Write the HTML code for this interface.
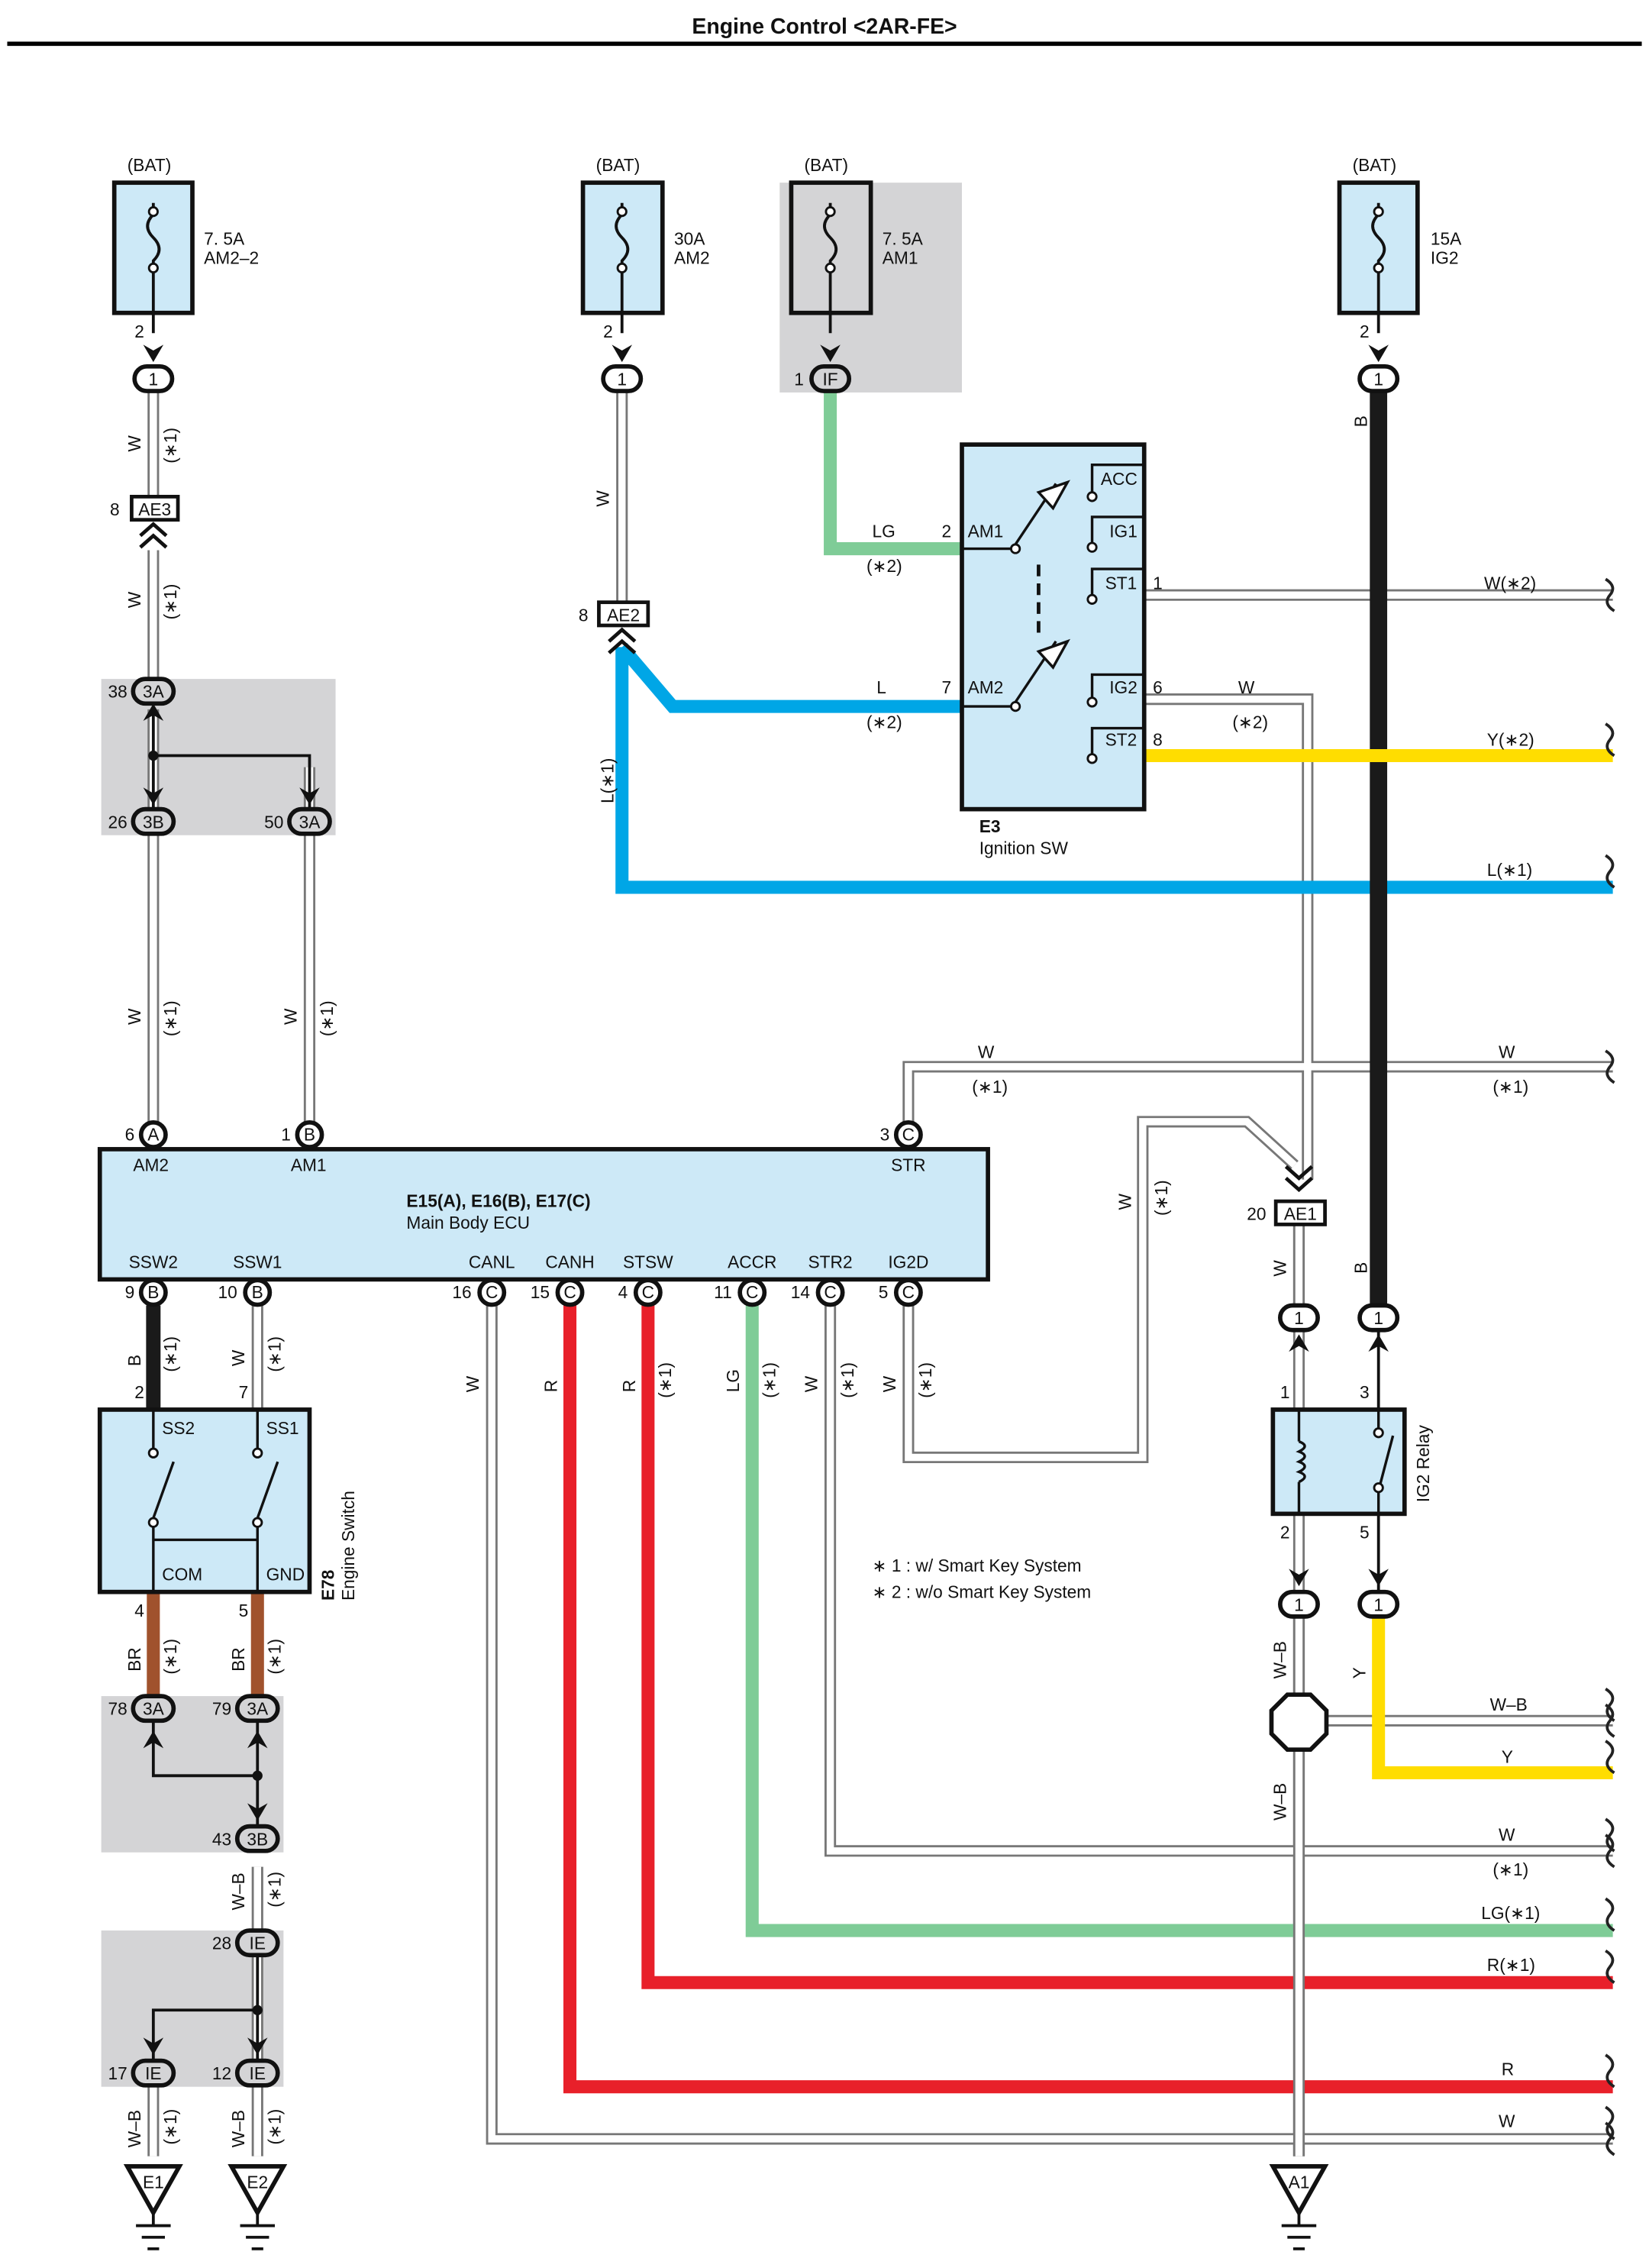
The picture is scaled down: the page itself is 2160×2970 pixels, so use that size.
<!DOCTYPE html>
<html><head><meta charset="utf-8"><style>
html,body{margin:0;padding:0;background:#fff}
svg{display:block}
text{font-family:"Liberation Sans",sans-serif;font-size:12px;fill:#111}
</style></head><body>
<svg width="2160" height="2970" viewBox="0 0 1140 1567" xmlns="http://www.w3.org/2000/svg">
<rect width="1140" height="1567" fill="#fff"/>
<text x="570" y="23" text-anchor="middle" style="font-size:15px;font-weight:bold">Engine Control &lt;2AR-FE&gt;</text>
<line x1="5" y1="30" x2="1135" y2="30" stroke="#000" stroke-width="3"/>

<g fill="#d4d4d6">
<rect x="539" y="126" width="126" height="145"/>
<rect x="70" y="469" width="162" height="108"/>
<rect x="70" y="1172" width="126" height="108"/>
<rect x="70" y="1334" width="126" height="108"/>
</g>

<g fill="none" stroke-linejoin="miter">
<g stroke="#777" stroke-width="8">
<path d="M106 270V345M106 380V470M106 490V560M214 530V560M106 577V776M214 577V776"/>
<path d="M430 270V415"/>
<path d="M791 411H1115M791 483H904V815"/>
<path d="M628 776V737H1115"/>
<path d="M628 902V1007H790V775H862L895 805"/>
<path d="M898 846V903M898 918V1490M898 1189H1115"/>
<path d="M178 902V974M178 1290V1336M178 1352V1425M106 1442V1490M178 1442V1490"/>
<path d="M574 902V1279H1115M340 902V1478H1115"/>
<path d="M898 1117V1490"/>
</g>
<g stroke="#fff" stroke-width="5">
<path d="M106 270V345M106 380V470M106 490V560M214 530V560M106 577V776M214 577V776"/>
<path d="M430 270V415"/>
<path d="M791 411H1115M791 483H904V815"/>
<path d="M628 776V737H1115"/>
<path d="M628 902V1007H790V775H862L895 805"/>
<path d="M898 846V903M898 918V1490M898 1189H1115"/>
<path d="M178 902V974M178 1290V1336M178 1352V1425M106 1442V1490M178 1442V1490"/>
<path d="M574 902V1279H1115M340 902V1478H1115"/>
<path d="M898 1117V1490"/>
</g>
</g>

<g fill="none" stroke-width="9">
<path d="M574 270V379H665" stroke="#7fcc97"/>
<path d="M430 447L465 488H665M430 447V613H1115" stroke="#00a6e6"/>
<path d="M953 270V910" stroke="#1a1a1a" stroke-width="12"/>
<path d="M106 902V974" stroke="#1a1a1a" stroke-width="10"/>
<path d="M791 522H1115" stroke="#ffdd00"/>
<path d="M953 1117V1225H1115" stroke="#ffdd00"/>
<path d="M520 902V1334H1115" stroke="#7fcc97"/>
<path d="M448 902V1370H1115" stroke="#e8202a"/>
<path d="M394 902V1442H1115" stroke="#e8202a"/>
<path d="M106 1100V1172M178 1100V1172" stroke="#a0522d"/>
</g>
<g fill="none"><path d="M898 846V903M898 1117V1490" stroke="#777" stroke-width="8"/><path d="M898 846V903M898 1117V1490" stroke="#fff" stroke-width="5"/></g>

<g stroke="#111" stroke-width="2" fill="none">
<path d="M106 490V560M106 522H214V560"/>
<path d="M106 1190V1227H178M178 1190V1262"/>
<path d="M178 1352V1425M106 1425V1389H178"/>
<path d="M953 918V974M953 1046V1100"/>
</g>
<g fill="#111"><circle cx="106" cy="522" r="3.5"/><circle cx="178" cy="1227" r="3.5"/><circle cx="178" cy="1389" r="3.5"/></g>

<g fill="none" stroke="#222" stroke-width="2">
<path d="M1110 400q8 5 3 11t3 11"/>
<path d="M1110 500q8 5 3 11t3 11"/>
<path d="M1110 591q8 5 3 11t3 11"/>
<path d="M1110 726q8 5 3 11t3 11"/>
<path d="M1110 1167q8 5 3 11t3 11M1110 1178q8 5 3 11t3 11"/>
<path d="M1110 1203q8 5 3 11t3 11"/>
<path d="M1110 1257q8 5 3 11t3 11M1110 1268q8 5 3 11t3 11"/>
<path d="M1110 1312q8 5 3 11t3 11"/>
<path d="M1110 1348q8 5 3 11t3 11"/>
<path d="M1110 1420q8 5 3 11t3 11"/>
<path d="M1110 1456q8 5 3 11t3 11M1110 1467q8 5 3 11t3 11"/>
</g>

<g stroke="#111" stroke-width="3" fill="#cde9f7">
<rect x="79" y="126" width="54" height="90"/>
<rect x="403" y="126" width="55" height="90"/>
<rect x="547" y="126" width="55" height="90" fill="#d4d4d6"/>
<rect x="926" y="126" width="54" height="90"/>
</g>
<g fill="none" stroke="#111" stroke-width="2">
<path d="M106 140V148q-8 8 0 16t0 16v6M106 186V230"/>
<path d="M430 140V148q-8 8 0 16t0 16v6M430 186V230"/>
<path d="M574 140V148q-8 8 0 16t0 16v6M574 186V230"/>
<path d="M953 140V148q-8 8 0 16t0 16v6M953 186V230"/>
</g>
<g fill="#fff" stroke="#111" stroke-width="1.5">
<circle cx="106" cy="146" r="3"/><circle cx="106" cy="185" r="3"/>
<circle cx="430" cy="146" r="3"/><circle cx="430" cy="185" r="3"/>
<circle cx="574" cy="146" r="3"/><circle cx="574" cy="185" r="3"/>
<circle cx="953" cy="146" r="3"/><circle cx="953" cy="185" r="3"/>
</g>
<g fill="#111">
<path d="M99 238l7 12 7-12-7 4z"/><path d="M423 238l7 12 7-12-7 4z"/><path d="M567 238l7 12 7-12-7 4z"/><path d="M946 238l7 12 7-12-7 4z"/>
</g>
<text x="88" y="118">(BAT)</text><text x="412" y="118">(BAT)</text><text x="556" y="118">(BAT)</text><text x="935" y="118">(BAT)</text>
<text x="141" y="169">7. 5A</text><text x="141" y="182">AM2–2</text>
<text x="466" y="169">30A</text><text x="466" y="182">AM2</text>
<text x="610" y="169">7. 5A</text><text x="610" y="182">AM1</text>
<text x="989" y="169">15A</text><text x="989" y="182">IG2</text>
<text x="93" y="233">2</text><text x="417" y="233">2</text><text x="940" y="233">2</text><text x="549" y="266">1</text>

<g stroke="#111" stroke-width="3" fill="#fff">
<rect x="93" y="253" width="26" height="17" rx="8.5"/>
<rect x="417" y="253" width="26" height="17" rx="8.5"/>
<rect x="561" y="253" width="26" height="17" rx="8.5" fill="#d4d4d6"/>
<rect x="940" y="253" width="26" height="17" rx="8.5"/>
<rect x="885" y="902" width="26" height="17" rx="8.5"/>
<rect x="940" y="902" width="26" height="17" rx="8.5"/>
<rect x="885" y="1100" width="26" height="17" rx="8.5"/>
<rect x="940" y="1100" width="26" height="17" rx="8.5"/>
</g>
<g text-anchor="middle">
<text x="106" y="266">1</text><text x="430" y="266">1</text><text x="574" y="266">IF</text><text x="953" y="266">1</text>
<text x="898" y="915">1</text><text x="953" y="915">1</text><text x="898" y="1113">1</text><text x="953" y="1113">1</text>
</g>

<g stroke="#111" stroke-width="3" fill="#d4d4d6">
<rect x="92" y="469" width="28" height="17" rx="8.5"/>
<rect x="92" y="559" width="28" height="17" rx="8.5"/>
<rect x="200" y="559" width="28" height="17" rx="8.5"/>
<rect x="92" y="1172" width="28" height="17" rx="8.5"/>
<rect x="164" y="1172" width="28" height="17" rx="8.5"/>
<rect x="164" y="1262" width="28" height="17" rx="8.5"/>
<rect x="164" y="1334" width="28" height="17" rx="8.5"/>
<rect x="92" y="1424" width="28" height="17" rx="8.5"/>
<rect x="164" y="1424" width="28" height="17" rx="8.5"/>
</g>
<g text-anchor="middle">
<text x="106" y="482">3A</text><text x="106" y="572">3B</text><text x="214" y="572">3A</text>
<text x="106" y="1185">3A</text><text x="178" y="1185">3A</text><text x="178" y="1275">3B</text>
<text x="178" y="1347">IE</text><text x="106" y="1437">IE</text><text x="178" y="1437">IE</text>
</g>
<g text-anchor="end">
<text x="88" y="482">38</text><text x="88" y="572">26</text><text x="196" y="572">50</text>
<text x="88" y="1185">78</text><text x="160" y="1185">79</text><text x="160" y="1275">43</text>
<text x="160" y="1347">28</text><text x="88" y="1437">17</text><text x="160" y="1437">12</text>
</g>

<g stroke="#111" stroke-width="2.5" fill="#fff">
<rect x="91" y="343" width="32" height="16"/>
<rect x="414" y="416" width="34" height="16"/>
<rect x="882" y="830" width="34" height="16"/>
</g>
<text x="107" y="356" text-anchor="middle">AE3</text><text x="431" y="429" text-anchor="middle">AE2</text><text x="899" y="843" text-anchor="middle">AE1</text>
<text x="76" y="356">8</text><text x="400" y="429">8</text><text x="862" y="843">20</text>
<g fill="none" stroke="#111" stroke-width="2.5">
<path d="M97 370l9-8 9 8M97 378l9-8 9 8"/>
<path d="M421 443l9-8 9 8M421 451l9-8 9 8"/>
<path d="M889 806l9 8 9-8M889 814l9 8 9-8"/>
</g>

<rect x="665" y="307" width="126" height="252" fill="#cde9f7" stroke="#111" stroke-width="3"/>
<g fill="none" stroke="#111" stroke-width="1.8">
<path d="M665 379H700l30-45M665 488H700l30-45"/>
<path d="M718 340l20-7-10 18z M718 450l20-7-10 18z" fill="#fff"/>
<path d="M718 390V440" stroke-dasharray="8 5" stroke-width="2.5"/>
<path d="M755 340V321H791M755 375V357H791M755 411V393H791M791 411V393M755 483V466H791M791 483V466M755 522V503H791M791 522V503"/>
</g>
<g fill="#fff" stroke="#111" stroke-width="1.5">
<circle cx="702" cy="379" r="3"/><circle cx="702" cy="488" r="3"/>
<circle cx="755" cy="343" r="3"/><circle cx="755" cy="378" r="3"/><circle cx="755" cy="414" r="3"/><circle cx="755" cy="485" r="3"/><circle cx="755" cy="524" r="3"/>
</g>
<text x="761" y="335">ACC</text><text x="767" y="371">IG1</text><text x="764" y="407">ST1</text><text x="767" y="479">IG2</text><text x="764" y="515">ST2</text>
<text x="669" y="371">AM1</text><text x="669" y="479">AM2</text>
<text x="651" y="371">2</text><text x="651" y="479">7</text>
<text x="797" y="407">1</text><text x="797" y="479">6</text><text x="797" y="515">8</text>
<text x="677" y="575" style="font-weight:bold">E3</text><text x="677" y="590">Ignition SW</text>
<text x="603" y="371">LG</text><text x="599" y="395">(∗2)</text>
<text x="606" y="479">L</text><text x="599" y="503">(∗2)</text>
<text x="856" y="479">W</text><text x="852" y="503">(∗2)</text>
<text x="1026" y="407">W(∗2)</text><text x="1028" y="515">Y(∗2)</text><text x="1028" y="605">L(∗1)</text>

<rect x="69" y="794" width="614" height="90" fill="#cde9f7" stroke="#111" stroke-width="3"/>
<text x="281" y="834" style="font-weight:bold">E15(A), E16(B), E17(C)</text><text x="281" y="849">Main Body ECU</text>
<text x="92" y="809">AM2</text><text x="201" y="809">AM1</text><text x="616" y="809">STR</text>
<g text-anchor="middle">
<text x="106" y="876">SSW2</text><text x="178" y="876">SSW1</text><text x="340" y="876">CANL</text><text x="394" y="876">CANH</text><text x="448" y="876">STSW</text><text x="520" y="876">ACCR</text><text x="574" y="876">STR2</text><text x="628" y="876">IG2D</text>
</g>
<g stroke="#111" stroke-width="3" fill="#fff">
<circle cx="106" cy="784" r="8.5"/><circle cx="214" cy="784" r="8.5"/><circle cx="628" cy="784" r="8.5"/>
<circle cx="106" cy="893" r="8.5"/><circle cx="178" cy="893" r="8.5"/><circle cx="340" cy="893" r="8.5"/><circle cx="394" cy="893" r="8.5"/><circle cx="448" cy="893" r="8.5"/><circle cx="520" cy="893" r="8.5"/><circle cx="574" cy="893" r="8.5"/><circle cx="628" cy="893" r="8.5"/>
</g>
<g text-anchor="middle" style="font-size:11px">
<text x="106" y="788">A</text><text x="214" y="788">B</text><text x="628" y="788">C</text>
<text x="106" y="897">B</text><text x="178" y="897">B</text><text x="340" y="897">C</text><text x="394" y="897">C</text><text x="448" y="897">C</text><text x="520" y="897">C</text><text x="574" y="897">C</text><text x="628" y="897">C</text>
</g>
<g text-anchor="end">
<text x="93" y="788">6</text><text x="201" y="788">1</text><text x="615" y="788">3</text>
<text x="93" y="897">9</text><text x="164" y="897">10</text><text x="326" y="897">16</text><text x="380" y="897">15</text><text x="434" y="897">4</text><text x="506" y="897">11</text><text x="560" y="897">14</text><text x="614" y="897">5</text>
</g>
<text x="676" y="731">W</text><text x="672" y="755">(∗1)</text><text x="1036" y="731">W</text><text x="1032" y="755">(∗1)</text>

<rect x="69" y="974" width="145" height="126" fill="#cde9f7" stroke="#111" stroke-width="3"/>
<g fill="none" stroke="#111" stroke-width="1.8">
<path d="M106 974V1002M106 1049V1100M178 974V1002M178 1049V1100M106 1049L120 1010M178 1049L192 1010M106 1064H178"/>
</g>
<g fill="#fff" stroke="#111" stroke-width="1.5"><circle cx="106" cy="1004" r="3"/><circle cx="178" cy="1004" r="3"/><circle cx="106" cy="1052" r="3"/><circle cx="178" cy="1052" r="3"/></g>
<text x="112" y="991">SS2</text><text x="184" y="991">SS1</text><text x="112" y="1092">COM</text><text x="184" y="1092">GND</text>
<text x="93" y="966">2</text><text x="165" y="966">7</text><text x="93" y="1117">4</text><text x="165" y="1117">5</text>
<text transform="translate(231 1106) rotate(-90)" style="font-weight:bold">E78</text>
<text transform="translate(245 1106) rotate(-90)">Engine Switch</text>

<rect x="880" y="974" width="91" height="72" fill="#cde9f7" stroke="#111" stroke-width="3"/>
<g fill="none" stroke="#111" stroke-width="1.8">
<path d="M898 974V996M898 1024V1046M898 996q8 3 0 7q8 3 0 7q8 3 0 7q8 3 0 7M953 974V988M953 1030V1046M953 1030L963 992"/>
</g>
<g fill="#fff" stroke="#111" stroke-width="1.5"><circle cx="953" cy="990" r="3"/><circle cx="953" cy="1028" r="3"/></g>
<text x="885" y="966">1</text><text x="940" y="966">3</text><text x="885" y="1063">2</text><text x="940" y="1063">5</text>
<text transform="translate(988 1038) rotate(-90)">IG2 Relay</text>
<g fill="#111">
<path d="M891 934l7-12 7 12-7-4z"/><path d="M946 934l7-12 7 12-7-4z"/>
<path d="M891 1084l7 12 7-12-7 4z"/><path d="M946 1084l7 12 7-12-7 4z"/>
<path d="M99 498l7-12 7 12-7-4z"/><path d="M99 544l7 12 7-12-7 4z"/><path d="M207 544l7 12 7-12-7 4z"/>
<path d="M99 1208l7-12 7 12-7-4z"/><path d="M171 1208l7-12 7 12-7-4z"/><path d="M171 1246l7 12 7-12-7 4z"/>
<path d="M99 1408l7 12 7-12-7 4z"/><path d="M171 1408l7 12 7-12-7 4z"/>
</g>

<path d="M890 1171h16l11 11v16l-11 11h-16l-11-11v-16z" fill="#fff" stroke="#111" stroke-width="3"/>
<text x="1030" y="1182">W–B</text><text x="1038" y="1218">Y</text>
<text x="1036" y="1272">W</text><text x="1032" y="1296">(∗1)</text>
<text x="1024" y="1326">LG(∗1)</text><text x="1028" y="1362">R(∗1)</text>
<text x="1038" y="1434">R</text><text x="1036" y="1470">W</text>

<text x="603" y="1086">∗ 1 : w/ Smart Key System</text>
<text x="603" y="1104">∗ 2 : w/o Smart Key System</text>

<g stroke="#111" stroke-width="3" fill="#fff">
<path d="M88 1497h36l-18 32z"/><path d="M160 1497h36l-18 32z"/><path d="M880 1497h36l-18 32z"/>
</g>
<g stroke="#111" stroke-width="2">
<path d="M94 1538h24M98 1546h16M102 1554h8M106 1529v9"/>
<path d="M166 1538h24M170 1546h16M174 1554h8M178 1529v9"/>
<path d="M886 1538h24M890 1546h16M894 1554h8M898 1529v9"/>
</g>
<text x="106" y="1512" text-anchor="middle">E1</text><text x="178" y="1512" text-anchor="middle">E2</text><text x="898" y="1512" text-anchor="middle">A1</text>

<g>
<text transform="translate(97 312) rotate(-90)">W</text><text transform="translate(122 320) rotate(-90)">(∗1)</text>
<text transform="translate(97 420) rotate(-90)">W</text><text transform="translate(122 428) rotate(-90)">(∗1)</text>
<text transform="translate(97 708) rotate(-90)">W</text><text transform="translate(122 716) rotate(-90)">(∗1)</text>
<text transform="translate(205 708) rotate(-90)">W</text><text transform="translate(230 716) rotate(-90)">(∗1)</text>
<text transform="translate(421 350) rotate(-90)">W</text>
<text transform="translate(424 555) rotate(-90)">L(∗1)</text>
<text transform="translate(945 295) rotate(-90)">B</text>
<text transform="translate(945 880) rotate(-90)">B</text>
<text transform="translate(889 882) rotate(-90)">W</text>
<text transform="translate(782 836) rotate(-90)">W</text><text transform="translate(807 840) rotate(-90)">(∗1)</text>
<text transform="translate(97 944) rotate(-90)">B</text><text transform="translate(122 948) rotate(-90)">(∗1)</text>
<text transform="translate(169 944) rotate(-90)">W</text><text transform="translate(194 948) rotate(-90)">(∗1)</text>
<text transform="translate(331 962) rotate(-90)">W</text>
<text transform="translate(385 962) rotate(-90)">R</text>
<text transform="translate(439 962) rotate(-90)">R</text><text transform="translate(464 966) rotate(-90)">(∗1)</text>
<text transform="translate(511 962) rotate(-90)">LG</text><text transform="translate(536 966) rotate(-90)">(∗1)</text>
<text transform="translate(565 962) rotate(-90)">W</text><text transform="translate(590 966) rotate(-90)">(∗1)</text>
<text transform="translate(619 962) rotate(-90)">W</text><text transform="translate(644 966) rotate(-90)">(∗1)</text>
<text transform="translate(97 1155) rotate(-90)">BR</text><text transform="translate(122 1157) rotate(-90)">(∗1)</text>
<text transform="translate(169 1155) rotate(-90)">BR</text><text transform="translate(194 1157) rotate(-90)">(∗1)</text>
<text transform="translate(169 1320) rotate(-90)">W–B</text><text transform="translate(194 1318) rotate(-90)">(∗1)</text>
<text transform="translate(97 1484) rotate(-90)">W–B</text><text transform="translate(122 1482) rotate(-90)">(∗1)</text>
<text transform="translate(169 1484) rotate(-90)">W–B</text><text transform="translate(194 1482) rotate(-90)">(∗1)</text>
<text transform="translate(889 1160) rotate(-90)">W–B</text>
<text transform="translate(889 1258) rotate(-90)">W–B</text>
<text transform="translate(944 1160) rotate(-90)">Y</text>
</g>
</svg>
</body></html>
